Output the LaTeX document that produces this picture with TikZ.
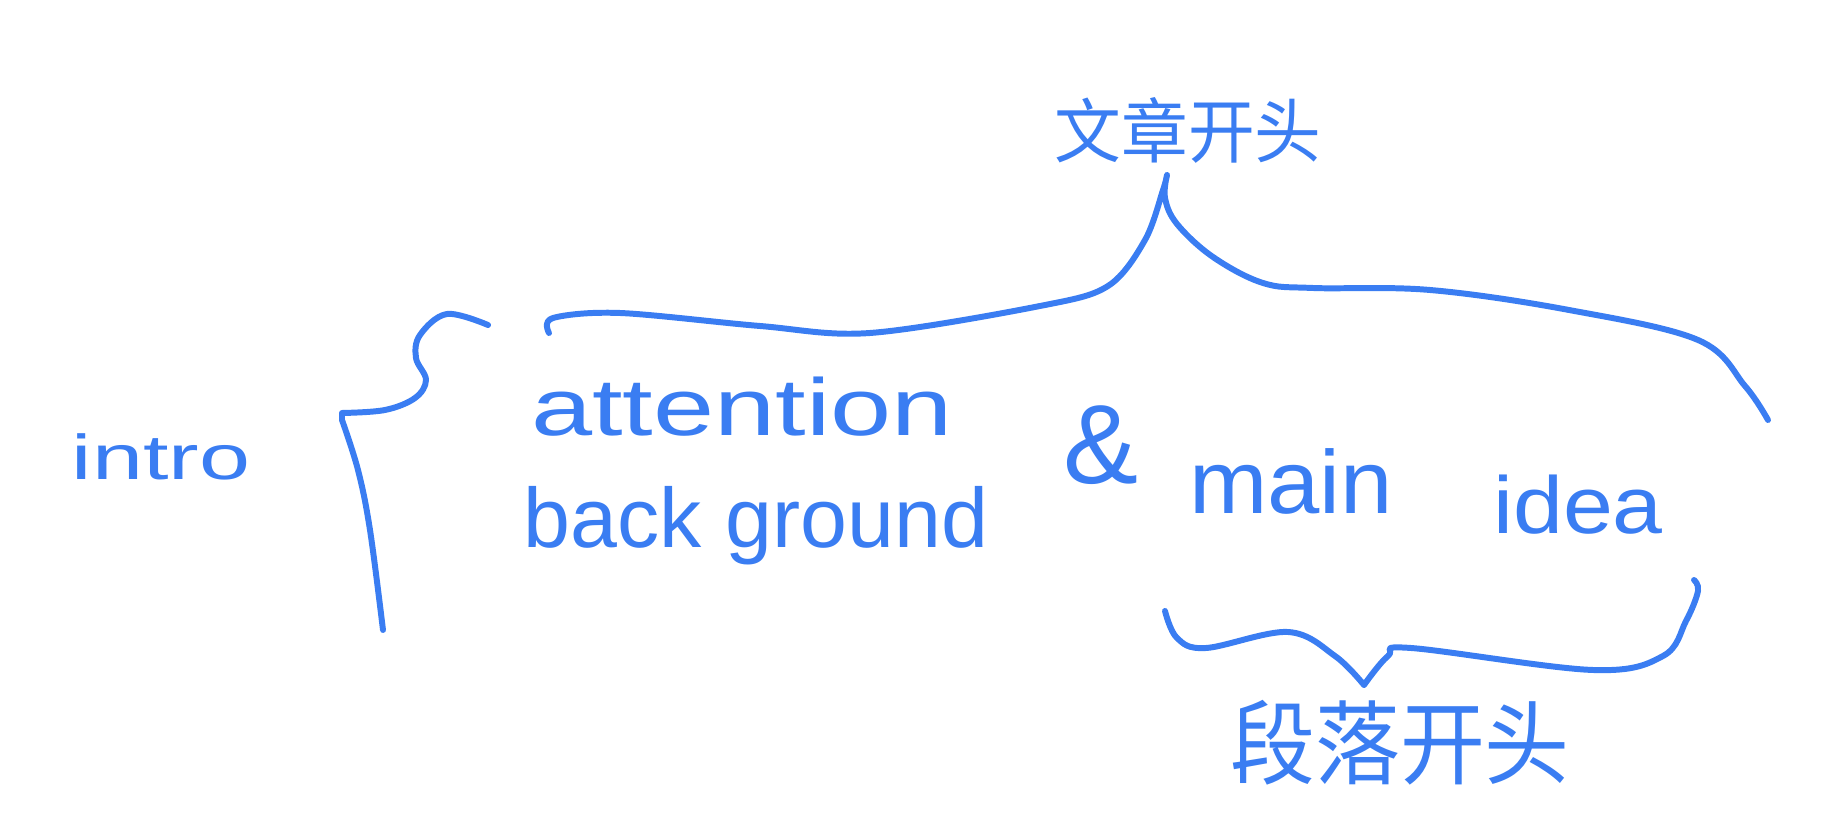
\documentclass[tikz,border=0pt]{standalone}
\usepackage{fontspec}
\setmainfont{Liberation Sans}
\newfontfamily\cjkfont{Noto Sans CJK SC}

\begin{document}
\begin{tikzpicture}[x=0.02cm, y=-0.02cm, line cap=round, line join=round,
    inkline/.style={draw=inkBlue, line width=3.4pt},
    word/.style={text=inkBlue, inner sep=0pt, font=\fontsize{#1}{#1}\selectfont},
    word/.default=44]
    % Define colours
    \definecolor{inkBlue}{HTML}{3A7DF2}

    % Fix picture size
    \useasboundingbox (0,0) rectangle (1836,830);

    % Words
    \node[word=36, xscale=1.45] (intro) at (161,457) {intro};
    \node[word=46, xscale=1.36] (attention) at (742,407) {attention};
    \node[word=48, xscale=1.0] (background) at (756,526) {back ground};
    \node[word=64] (amp) at (1101,445) {\&};
    \node[word=51, xscale=1.05] (main) at (1291,481) {main};
    \node[word=46, xscale=1.11] (idea) at (1578,505) {idea};

    % Chinese labels
    \node[word=40, xscale=0.95] (articleHead) at (1188,130) {\cjkfont 文章开头};
    \node[word=52, xscale=0.93] (paraHead) at (1400,743) {\cjkfont 段落开头};

    % Define coordinates for the brace tips
    \coordinate (introTip) at (342,413);
    \coordinate (articleTip) at (1167,175);
    \coordinate (paraTip) at (1364,685);

    % Left brace
    \draw[inkline] plot[smooth, tension=0.6] coordinates {(488,325) (447,314) (420,335) (416,358) (426,380) (415,398) (385,410) (introTip)}
        -- (342,420) plot[smooth, tension=0.6] coordinates {(342,420) (358,470) (370,530) (383,630)};

    % Top brace
    \draw[inkline] plot[smooth, tension=0.55] coordinates {(549,333) (553,318) (620,313) (760,326) (870,333) (1040,306) (1108,286) (1145,240) (1163,190) (articleTip)}
        plot[smooth, tension=0.6] coordinates {(articleTip) (1165,198) (1177,224) (1213,257) (1263,283) (1313,288) (1430,290) (1569,310) (1698,340) (1745,386) (1768,420)};

    % Bottom brace
    \draw[inkline] plot[smooth, tension=0.6] coordinates {(1165,611) (1177,638) (1206,648) (1288,632) (1335,656) (paraTip)}
        plot[smooth, tension=0.6] coordinates {(paraTip) (1388,656) (1411,648) (1593,670) (1663,656) (1686,621) (1698,591) (1694,580)};

\end{tikzpicture}
\end{document}
